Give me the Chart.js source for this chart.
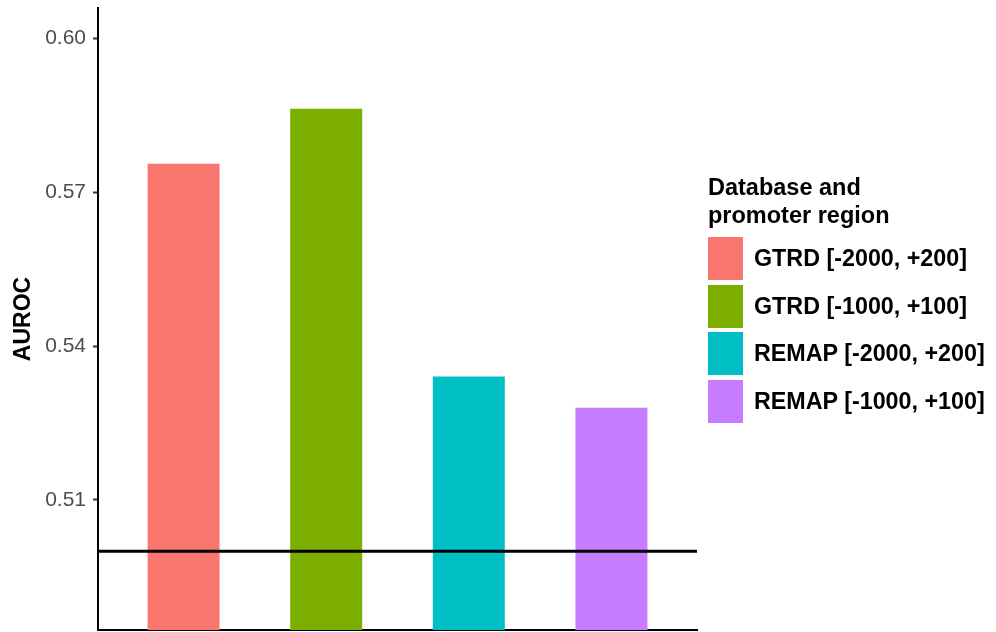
<!DOCTYPE html>
<html>
<head>
<meta charset="utf-8">
<script src="https://cdn.jsdelivr.net/npm/chart.js@4.4.0/dist/chart.umd.min.js"></script>
<style>
  html, body { margin: 0; padding: 0; background: #fff; }
  #wrap { position: relative; width: 996px; height: 632px; }
  #grafico { display: block; }
  #legend { position: absolute; left: 708px; top: 173px; font-family: "Liberation Sans", Arial, sans-serif; font-weight: bold; color: #000; }
  #legend .titulo { font-size: 23.5px; line-height: 28px; margin-bottom: 6px; }
  #legend .item { display: flex; align-items: center; height: 47.5px; font-size: 23.3px; }
  #legend .caixa { width: 35px; height: 43px; margin-right: 11px; }
</style>
</head>
<body>
<div id="wrap">
  <canvas id="grafico"></canvas>
  <div id="legend"></div>
</div>
<script>
// Dados
const categorias = ['GTRD [-2000, +200]', 'GTRD [-1000, +100]', 'REMAP [-2000, +200]', 'REMAP [-1000, +100]'];
const valoresAuroc = [0.5755, 0.5862, 0.534, 0.5279];
const cores = ['#F8766D', '#7CAE00', '#00BFC4', '#C77CFF'];
const ticksY = [0.51, 0.54, 0.57, 0.60];
const linhaReferencia = 0.5;
const tituloLegenda = ['Database and', 'promoter region'];

// Legenda em HTML
const legendaDiv = document.getElementById('legend');
legendaDiv.innerHTML = `<div class="titulo">${tituloLegenda.join('<br>')}</div>` +
  categorias.map((c, i) => `
    <div class="item"><span class="caixa" style="background:${cores[i]}"></span>${c}</div>
  `).join('');

const canvas = document.getElementById('grafico');
canvas.width = 996;
canvas.height = 632;

const ctx = canvas.getContext('2d');
const grafico = new Chart(ctx, {
  type: 'bar',
  data: {
    datasets: [
      {
        type: 'line',
        data: [{ x: 0.4, y: linhaReferencia }, { x: categorias.length + 0.6, y: linhaReferencia }],
        borderColor: '#000',
        borderWidth: 3,
        pointRadius: 0,
        order: 0
      },
      {
        type: 'bar',
        data: valoresAuroc.map((v, i) => ({ x: i + 1, y: v })),
        backgroundColor: cores,
        barPercentage: 1,
        categoryPercentage: 1,
        order: 1
      }
    ]
  },
  options: {
    responsive: false,
    animation: false,
    layout: { padding: { top: 8, right: 299, left: 0, bottom: 0 } },
    plugins: {
      legend: { display: false },
      tooltip: { enabled: false }
    },
    scales: {
      x: {
        type: 'linear',
        min: 0.4,
        max: categorias.length + 0.6,
        offset: false,
        ticks: { display: false },
        grid: { display: false, drawTicks: false },
        border: { display: true, color: '#000', width: 2 },
        afterFit: s => { s.height = 2; s.paddingLeft = 0; s.paddingRight = 0; }
      },
      y: {
        min: 0.48466,
        max: 0.6059,
        afterBuildTicks: s => { s.ticks = ticksY.map(v => ({ value: v })); },
        ticks: {
          color: '#4d4d4d',
          font: { family: 'Liberation Sans', size: 21 },
          padding: 7,
          callback: v => v.toFixed(2)
        },
        grid: { drawOnChartArea: false, drawTicks: true, tickLength: 5, tickColor: '#333', tickWidth: 2 },
        border: { display: true, color: '#000', width: 2 },
        title: {
          display: true,
          text: 'AUROC',
          color: '#000',
          font: { family: 'Liberation Sans', size: 23, weight: 'bold' },
          padding: { top: 10, bottom: 0 }
        },
        afterFit: s => { s.width = 98; s.paddingTop = 0; s.paddingBottom = 0; }
      }
    }
  }
});
</script>
</body>
</html>
